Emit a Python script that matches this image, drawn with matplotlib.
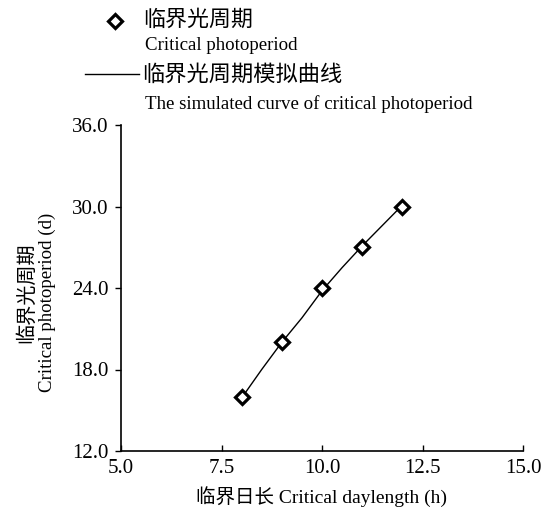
import matplotlib
matplotlib.use("Agg")
import matplotlib.pyplot as plt
from matplotlib.lines import Line2D

# Data
daylength = [8, 9, 10, 11, 12]
photoperiod = [16.0, 20.0, 24.0, 27.0, 30.0]
curve_x = [8, 8.5, 9, 9.5, 10, 10.5, 11, 11.5, 12]
curve_y = [15.9, 18.0, 20.0, 21.8, 23.8, 25.5, 27.1, 28.6, 30.1]
xticks = [5.0, 7.5, 10.0, 12.5, 15.0]
yticks = [12.0, 18.0, 24.0, 30.0, 36.0]

serif = ['Liberation Serif', 'Noto Sans CJK SC']
cjk = ['Noto Sans CJK SC', 'Liberation Serif']

fig = plt.figure(figsize=(5.49, 5.12), dpi=100)
W, H = 549, 512
ax = fig.add_axes([121 / W, 1 - 451 / H, (523 - 121) / W, (451 - 125) / H])

ax.plot(curve_x, curve_y, color='black', lw=1.0, zorder=2)
ax.plot(daylength, photoperiod, linestyle='none', marker='D', markersize=7.5,
        markerfacecolor='white', markeredgecolor='black', markeredgewidth=2.3, zorder=3)

ax.set_xlim(5, 15)
ax.set_ylim(12, 36)
ax.set_xticks(xticks)
ax.set_yticks(yticks)
ax.set_xticklabels([f"{v:.1f}" for v in xticks], family=serif, fontsize=15)
ax.set_yticklabels([f"{v:.1f}" for v in yticks], family=serif, fontsize=15)
ax.tick_params(axis='x', direction='in', length=4, width=1, pad=6)
ax.tick_params(axis='y', direction='out', length=4, width=1, pad=5)
for s in ['top', 'right']:
    ax.spines[s].set_visible(False)
for s in ['left', 'bottom']:
    ax.spines[s].set_linewidth(1.2)

# x label
fig.text(321 / W, 1 - 497 / H, '临界日长 Critical daylength (h)', family=serif,
         fontsize=14, ha='center', va='center')

# y label, two lines
fig.text(27 / W, 1 - 293 / H, '临界光周期', family=cjk, fontsize=14.5,
         rotation=90, ha='center', va='center')
fig.text(47 / W, 1 - 302 / H, 'Critical photoperiod (d)', family=serif, fontsize=13.6,
         rotation=90, ha='center', va='center')

# legend (manual, outside axes)
fig.add_artist(Line2D([115 / W], [1 - 21 / H], marker='D', markersize=7.5,
                      markerfacecolor='white', markeredgecolor='black',
                      markeredgewidth=2.3, linestyle='none', transform=fig.transFigure))
fig.text(143 / W, 1 - 20 / H, '临界光周期', family=cjk, fontsize=15.8, ha='left', va='center')
fig.text(145 / W, 1 - 46 / H, 'Critical photoperiod', family=serif, fontsize=13.6, ha='left', va='center')
fig.add_artist(Line2D([85 / W, 139 / W], [1 - 74 / H, 1 - 74 / H], color='black', lw=1.0,
                      transform=fig.transFigure))
fig.text(142 / W, 1 - 74 / H, '临界光周期模拟曲线', family=cjk, fontsize=16, ha='left', va='center')
fig.text(145 / W, 1 - 104 / H, 'The simulated curve of critical photoperiod', family=serif,
         fontsize=13.6, ha='left', va='center')

fig.savefig('out.png', dpi=100)
